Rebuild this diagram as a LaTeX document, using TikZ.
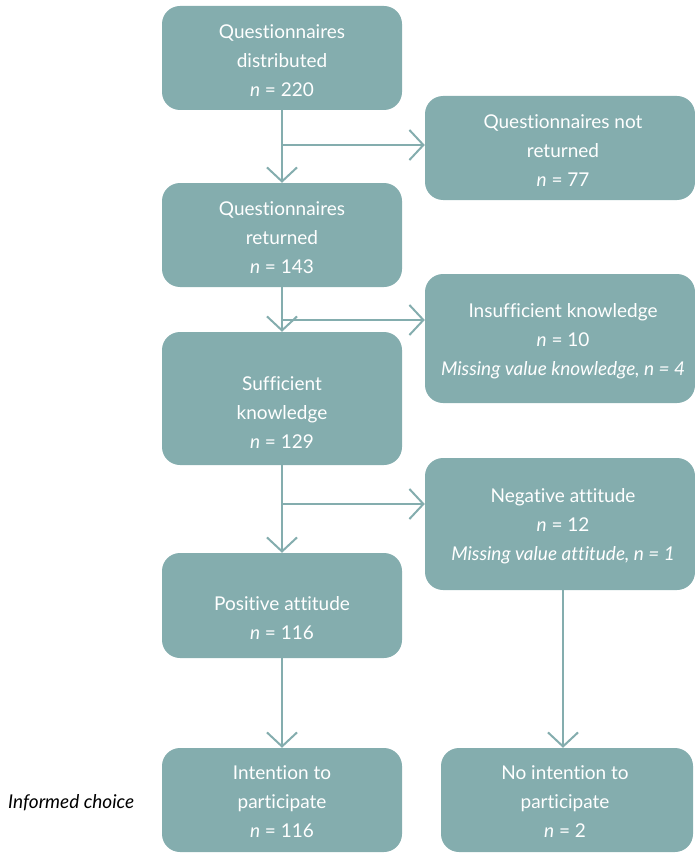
\documentclass[tikz,border=0pt]{standalone}
\usepackage{fontspec}
\setmainfont[Ligatures={NoCommon}]{Lato}
\usetikzlibrary{arrows.meta}
\definecolor{teal1}{RGB}{132,173,174}
\begin{document}
\begin{tikzpicture}[x=1pt,y=-1pt,
  box/.style={fill=teal1,rounded corners=18pt,draw=none,inner sep=0pt},
  txt/.style={text=white,align=center,font=\fontsize{19}{29}\selectfont,inner sep=0pt},
  conn/.style={draw=teal1,line width=2pt,-{Straight Barb[length=14pt,width=30pt,line width=2pt]}},
  line/.style={draw=teal1,line width=2pt}]
\useasboundingbox (0,0) rectangle (695,853);
% boxes
\path[box] (162,6) rectangle (402,110);
\node[inner sep=0pt,minimum width=240pt,minimum height=104pt] (b1) at (282,58) {};
\path[box] (425,96) rectangle (695,200);
\node[inner sep=0pt,minimum width=270pt,minimum height=104pt] (b2) at (560,148) {};
\path[box] (162,183) rectangle (402,287);
\node[inner sep=0pt,minimum width=240pt,minimum height=104pt] (b3) at (282,235) {};
\path[box] (425,274) rectangle (695,403);
\node[inner sep=0pt,minimum width=270pt,minimum height=129pt] (b4) at (560,338.5) {};
\path[box] (162,332) rectangle (402,465);
\node[inner sep=0pt,minimum width=240pt,minimum height=133pt] (b5) at (282,398.5) {};
\path[box] (425,458) rectangle (695,590);
\node[inner sep=0pt,minimum width=270pt,minimum height=132pt] (b6) at (560,524) {};
\path[box] (162,553) rectangle (402,658);
\node[inner sep=0pt,minimum width=240pt,minimum height=105pt] (b7) at (282,605.5) {};
\path[box] (162,748) rectangle (402,852);
\node[inner sep=0pt,minimum width=240pt,minimum height=104pt] (b8) at (282,800) {};
\path[box] (441,748) rectangle (693,852);
\node[inner sep=0pt,minimum width=252pt,minimum height=104pt] (b9) at (567,800) {};
% texts
\node[txt] (t1) at (282,61) {Questionnaires\\distributed\\\textit{n} = 220};
\node[txt] (t2) at (563,151) {Questionnaires not\\returned\\\textit{n} = 77};
\node[txt] (t3) at (282,238) {Questionnaires\\returned\\\textit{n} = 143};
\node[txt] (t4) at (563,341) {Insufficient knowledge\\\textit{n} = 10\\\textit{Missing value knowledge, n = 4}};
\node[txt] (t5) at (282,413) {Sufficient\\knowledge\\\textit{n} = 129};
\node[txt] (t6) at (563,526) {Negative attitude\\\textit{n} = 12\\\textit{Missing value attitude, n = 1}};
\node[txt] (t7) at (282,618) {Positive attitude\\\textit{n} = 116};
\node[txt] (t8) at (282,802) {Intention to\\participate\\\textit{n} = 116};
\node[txt] (t9) at (565,802) {No intention to\\participate\\\textit{n} = 2};
\node[inner sep=0pt,font=\fontsize{19}{22}\selectfont\itshape,anchor=west] (ic) at (8,803) {Informed choice};
% connectors
\coordinate (j1) at (282,145);
\coordinate (j2) at (282,320);
\coordinate (j3) at (282,504);
\draw[conn] (b1.south) -- (b3.north);
\draw[conn] (j1) -- (b2.west |- j1);
\draw[conn] (b3.south) -- (b5.north);
\draw[conn] (j2) -- (b4.west |- j2);
\draw[conn] (b5.south) -- (b7.north);
\draw[conn] (j3) -- (b6.west |- j3);
\draw[conn] (b7.south) -- (b8.north);
\draw[conn] (b6.south -| b9.north) ++(-4,0) -- ([xshift=-4pt]b9.north);
\end{tikzpicture}
\end{document}
